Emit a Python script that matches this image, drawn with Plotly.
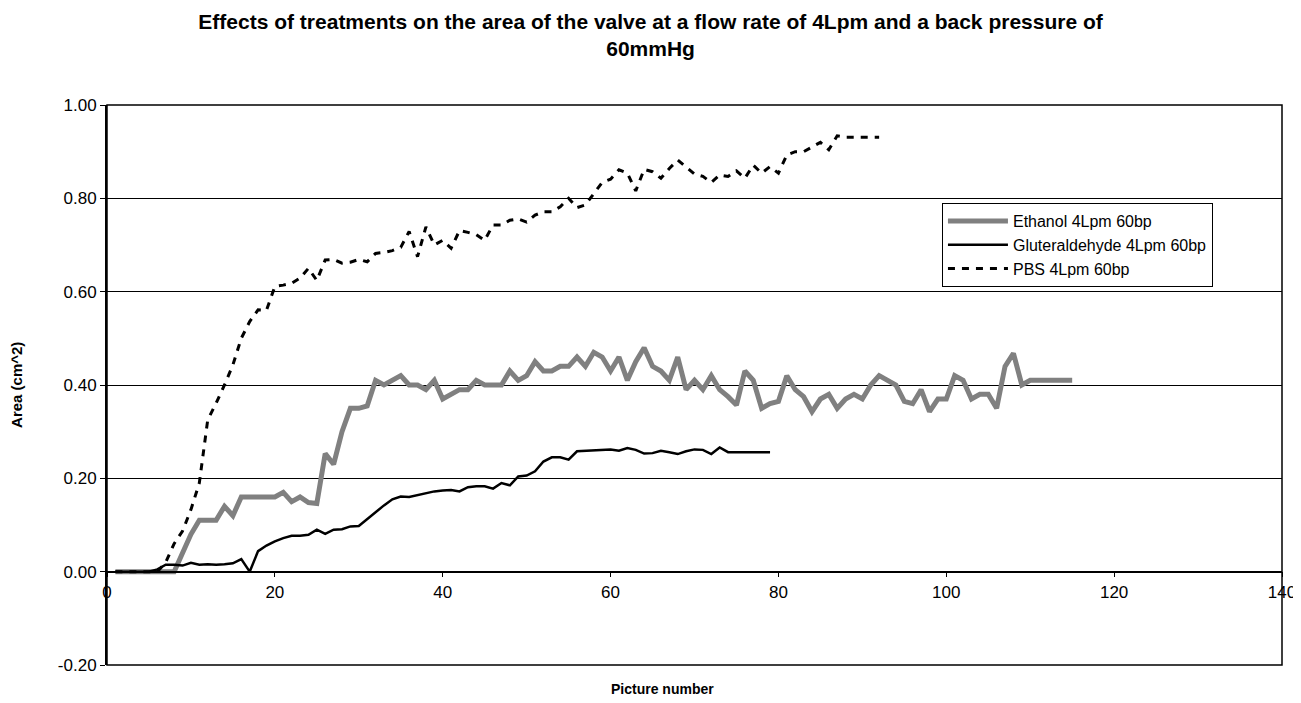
import plotly.graph_objects as go

# ---------------- data ----------------
ethanol_x = list(range(1, 116))
ethanol_y = [
    0, 0, 0, 0, 0, 0, 0, 0.0, 0.04, 0.08,            # 1-10
    0.11, 0.11, 0.11, 0.14, 0.12, 0.16, 0.16, 0.16, 0.16, 0.16,   # 11-20
    0.17, 0.15, 0.16, 0.148, 0.146, 0.253, 0.23, 0.30, 0.35, 0.35,  # 21-30
    0.355, 0.41, 0.40, 0.41, 0.42, 0.40, 0.40, 0.39, 0.41, 0.37,   # 31-40
    0.38, 0.39, 0.39, 0.41, 0.40, 0.40, 0.40, 0.43, 0.41, 0.42,    # 41-50
    0.45, 0.43, 0.43, 0.44, 0.44, 0.46, 0.44, 0.47, 0.46, 0.43,    # 51-60
    0.46, 0.41, 0.45, 0.48, 0.44, 0.43, 0.41, 0.46, 0.39, 0.41,    # 61-70
    0.39, 0.42, 0.39, 0.375, 0.357, 0.43, 0.41, 0.35, 0.36, 0.365, # 71-80
    0.42, 0.39, 0.375, 0.343, 0.37, 0.38, 0.35, 0.37, 0.38, 0.37,  # 81-90
    0.40, 0.42, 0.41, 0.40, 0.365, 0.36, 0.39, 0.343, 0.37, 0.37,  # 91-100
    0.42, 0.41, 0.37, 0.38, 0.38, 0.35, 0.44, 0.468, 0.40, 0.41,   # 101-110
    0.41, 0.41, 0.41, 0.41, 0.41,                                  # 111-115
]

glut_x = list(range(1, 80))
glut_y = [
    0, 0, 0, 0, 0, 0.005, 0.015, 0.015, 0.013, 0.019,              # 1-10
    0.015, 0.016, 0.015, 0.016, 0.018, 0.027, 0.0, 0.044, 0.056, 0.065,  # 11-20
    0.072, 0.077, 0.077, 0.079, 0.09, 0.081, 0.09, 0.091, 0.097, 0.098,  # 21-30
    0.113, 0.128, 0.142, 0.155, 0.161, 0.16, 0.164, 0.168, 0.172, 0.174, # 31-40
    0.175, 0.172, 0.181, 0.183, 0.183, 0.178, 0.19, 0.185, 0.204, 0.206, # 41-50
    0.215, 0.236, 0.245, 0.245, 0.24, 0.258, 0.259, 0.261, 0.262, 0.262, # 51-60
    0.259, 0.265, 0.261, 0.253, 0.254, 0.259, 0.256, 0.252, 0.258, 0.262, # 61-70
    0.261, 0.252, 0.266, 0.256, 0.256, 0.256, 0.256, 0.256, 0.256,       # 71-79
]

pbs_x = list(range(1, 93))
pbs_y = [
    0, 0, 0, 0, 0, 0, 0.02, 0.06, 0.087, 0.133,                    # 1-10
    0.19, 0.325, 0.361, 0.40, 0.443, 0.50, 0.536, 0.561, 0.56, 0.611,  # 11-20
    0.614, 0.618, 0.629, 0.65, 0.624, 0.668, 0.669, 0.661, 0.663, 0.669, # 21-30
    0.664, 0.682, 0.684, 0.688, 0.695, 0.729, 0.675, 0.739, 0.70, 0.71,  # 31-40
    0.693, 0.731, 0.727, 0.722, 0.71, 0.743, 0.743, 0.753, 0.756, 0.749, # 41-50
    0.764, 0.771, 0.771, 0.782, 0.80, 0.78, 0.786, 0.81, 0.834, 0.841,  # 51-60
    0.861, 0.854, 0.816, 0.862, 0.857, 0.843, 0.864, 0.882, 0.868, 0.852, # 61-70
    0.847, 0.834, 0.85, 0.847, 0.859, 0.843, 0.871, 0.854, 0.868, 0.854, # 71-80
    0.893, 0.90, 0.90, 0.91, 0.92, 0.904, 0.934, 0.931, 0.931, 0.931,    # 81-90
    0.931, 0.931,                                                        # 91-92
]

series_names = ["Ethanol 4Lpm 60bp", "Gluteraldehyde 4Lpm 60bp", "PBS 4Lpm 60bp"]
x_ticks = [0, 20, 40, 60, 80, 100, 120, 140]
y_ticks = [-0.20, 0.00, 0.20, 0.40, 0.60, 0.80, 1.00]
y_tick_labels = [f"{v:.2f}" for v in y_ticks]

title_text = ("Effects of treatments on the area of the valve at a flow rate of 4Lpm "
              "and a back pressure of<br>60mmHg")
x_title = "Picture number"
y_title = "Area (cm^2)"

FONT = "Liberation Sans, Arial, Helvetica, sans-serif"

# ---------------- figure ----------------
fig = go.Figure()
fig.add_trace(go.Scatter(x=ethanol_x, y=ethanol_y, mode="lines", name=series_names[0],
                         line=dict(color="#808080", width=5)))
fig.add_trace(go.Scatter(x=glut_x, y=glut_y, mode="lines", name=series_names[1],
                         line=dict(color="#000000", width=2.5)))
fig.add_trace(go.Scatter(x=pbs_x, y=pbs_y, mode="lines", name=series_names[2],
                         line=dict(color="#000000", width=3, dash="7px,7px")))

ymin, ymax = y_ticks[0], y_ticks[-1]
zero_pos = (0 - ymin) / (ymax - ymin)

fig.update_layout(
    width=1301, height=703,
    margin=dict(l=99, r=27, t=97, b=46),
    paper_bgcolor="white", plot_bgcolor="white",
    font=dict(family=FONT, color="black", size=16),
    title=dict(text="<b>" + title_text + "</b>", x=0.4939, xref="container", xanchor="center",
               y=0.9701, yref="container", yanchor="middle",
               font=dict(family=FONT, size=21, color="black")),
    xaxis=dict(range=[x_ticks[0], x_ticks[-1]], tickvals=x_ticks, anchor="free", position=zero_pos,
               showline=True, linecolor="black", linewidth=1.5, ticks="outside", ticklen=5,
               tickcolor="black", showgrid=False, zeroline=False,
               tickfont=dict(family=FONT, size=17, color="black")),
    yaxis=dict(range=[ymin, ymax], tickvals=y_ticks, ticktext=y_tick_labels,
               showline=True, linecolor="black", linewidth=2, ticks="outside", ticklen=5,
               tickcolor="black", showgrid=True, gridcolor="black", gridwidth=1, zeroline=False,
               tickfont=dict(family=FONT, size=17, color="black")),
    legend=dict(x=0.7106, y=0.825, xanchor="left", yanchor="top",
                bordercolor="black", borderwidth=1, bgcolor="white", itemwidth=60,
                font=dict(family=FONT, size=16, color="black"), traceorder="normal"),
    showlegend=True,
)

# plot-area frame
fig.add_shape(type="rect", xref="paper", yref="paper", x0=0, y0=0, x1=1, y1=1,
              line=dict(color="black", width=1.5), fillcolor="rgba(0,0,0,0)", layer="above")

# axis titles
fig.add_annotation(text="<b>" + x_title + "</b>", xref="paper", yref="paper",
                   x=0.473, y=-0.0425, showarrow=False, xanchor="center", yanchor="middle",
                   font=dict(family=FONT, size=14, color="black"))
fig.add_annotation(text="<b>" + y_title + "</b>", xref="paper", yref="paper",
                   x=-0.0775, y=0.5, showarrow=False, textangle=-90, xanchor="center",
                   yanchor="middle", font=dict(family=FONT, size=15, color="black"))

fig.write_html("out.html")
